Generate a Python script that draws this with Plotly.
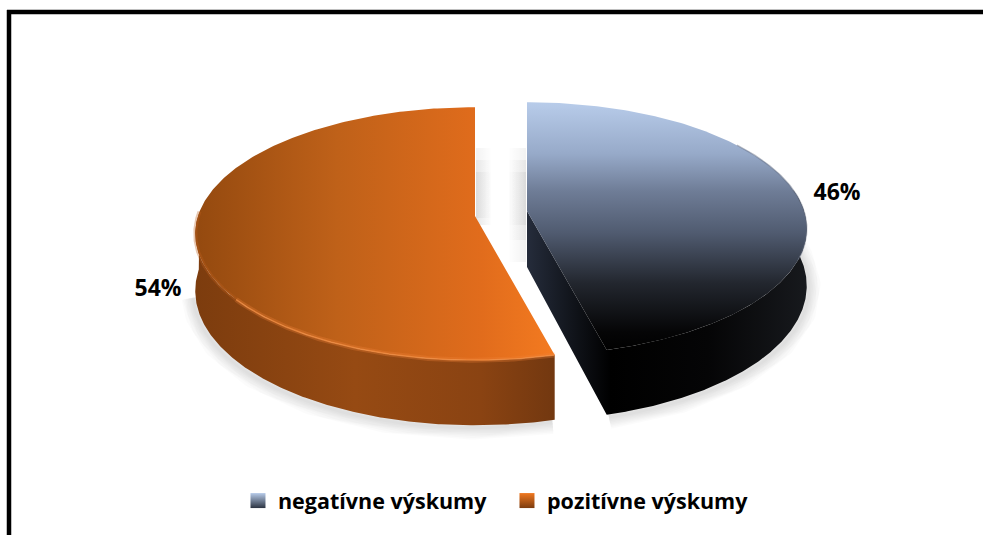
import numpy as np
import plotly.graph_objects as go

categories = ["negatívne výskumy", "pozitívne výskumy"]
values = [46, 54]

# drawing geometry of the tilted, exploded pie (axes mapped to window pixels)
CENTERS = [(527, 211), (475, 216)]
RX, RY, PERSP, DEPTH = 277, 124, 0.14, 56
FONT = "Open Sans"
WIDTH, HEIGHT = 983, 535


def project(theta_deg, cx, cy, radius=1.0, z=0.0):
    t = np.radians(theta_deg)
    u, v = radius * np.sin(t), -radius * np.cos(t)
    w = 1 - PERSP * v
    return cx + RX * u / w, cy + (RY * v + z) / w


def arc(a0, a1, cx, cy, z=0.0):
    return project(np.linspace(a0, a1, 240), cx, cy, z=z)


angle_end = 360 * values[0] / sum(values)
c0, c1 = CENTERS
fig = go.Figure()


def poly(x, y, orient, start, stop, scale):
    fig.add_trace(go.Scatter(
        x=list(x), y=list(y), mode="lines", line=dict(width=0), fill="toself",
        fillgradient=dict(type=orient, start=start, stop=stop, colorscale=scale),
        hoverinfo="skip", showlegend=False))


def stroke(x, y, color, width):
    fig.add_trace(go.Scatter(x=list(x), y=list(y), mode="lines",
                             line=dict(color=color, width=width),
                             hoverinfo="skip", showlegend=False))


# soft drop shadows
for width in [24, 21, 18, 15, 12, 9, 6, 3]:
    col = "rgba(0,0,0,0.014)"
    x, y = arc(angle_end, 260, c1[0], c1[1], z=DEPTH + 2)
    stroke(x - 2, y, col, width)
    x, y = arc(angle_end, 80, c0[0], c0[1], z=DEPTH + 2)
    stroke(x + 2, y, col, width)
fade_l = [[0, "rgba(0,0,0,0.05)"], [1, "rgba(0,0,0,0)"]]
fade_r = [[0, "rgba(0,0,0,0)"], [1, "rgba(0,0,0,0.05)"]]
for y_top, y_end in [(148, 225), (160, 225), (172, 218)]:
    poly([476, 492, 492, 476], [y_top, y_top, y_end, y_end], "horizontal", 476, 492, fade_l)
for y_top, y_end in [(148, 262), (160, 240), (172, 225)]:
    poly([508, 526, 526, 508], [y_top, y_top, y_end, y_end], "horizontal", 508, 526, fade_r)

# orange slice: wall then top
x0, y0 = arc(angle_end, 272, *c1)
x1, y1 = arc(272, angle_end, *c1, z=DEPTH)
poly(np.r_[x0, x1], np.r_[y0, y1], "horizontal", 193, 553,
     [[0, "#7c3c0e"], [0.45, "#964a13"], [0.8, "#8a4312"], [1, "#733810"]])
xt, yt = arc(angle_end, 360, *c1)
poly(np.r_[c1[0], xt], np.r_[c1[1], yt], "horizontal", 193, 553,
     [[0, "#93490f"], [0.4, "#bf6119"], [0.8, "#e16c1c"], [1, "#f37a20"]])
x, y = arc(angle_end, 232, *c1)
stroke(x, y, "rgba(240,130,55,0.3)", 5)
stroke(x, y, "rgba(240,140,65,0.75)", 1.5)
x, y = arc(232, 272, *c1)
stroke(x, y, "rgba(190,95,30,0.35)", 4)

# blue slice: wall and cut face, then top
x0, y0 = arc(angle_end, 80, *c0)
x1, y1 = arc(80, angle_end, *c0, z=DEPTH)
poly(np.r_[c0[0], x0, x1, c0[0]], np.r_[c0[1], y0, y1, c0[1] + DEPTH], "horizontal", 527, 806,
     [[0, "#252c3b"], [0.3, "#000000"], [0.65, "#050506"], [1, "#17191d"]])
xt, yt = arc(0, angle_end, *c0)
poly(np.r_[c0[0], xt], np.r_[c0[1], yt], "vertical", 104, 352,
     [[0, "#b7cbe9"], [0.2, "#97aac9"], [0.35, "#6f7d97"], [0.52, "#505b70"],
      [0.72, "#23272f"], [0.92, "#050506"], [1, "#000000"]])
x, y = arc(55, 112, *c0)
stroke(x, y, "rgba(95,105,125,0.45)", 1.5)

# data labels
label_x = [837, 158]
label_y = [194, 290]
fig.add_trace(go.Scatter(
    x=label_x, y=label_y, mode="text", text=[f"{v}%" for v in values],
    textfont=dict(family=FONT, size=23, color="#000000", weight="bold"),
    hoverinfo="skip", showlegend=False))

# legend entries
swatches = [("#b7cbe9", "#2c3442"), ("#f07820", "#7c3c0e")]
for name, (top, bottom) in zip(categories, swatches):
    fig.add_trace(go.Scatter(
        x=[None], y=[None], mode="markers", name=name,
        marker=dict(symbol="square", size=15, color=top,
                    gradient=dict(type="vertical", color=bottom))))

fig.update_layout(
    width=WIDTH, height=HEIGHT, autosize=False,
    margin=dict(l=0, r=0, t=0, b=0),
    paper_bgcolor="#ffffff", plot_bgcolor="#ffffff",
    xaxis=dict(range=[0, WIDTH], visible=False, fixedrange=True),
    yaxis=dict(range=[HEIGHT, 0], visible=False, fixedrange=True),
    legend=dict(orientation="h", x=0.2421, xanchor="left", y=0.026, yanchor="bottom",
                font=dict(family=FONT, size=21.5, color="#000000", weight="bold"),
                itemsizing="trace", entrywidth=224, bgcolor="rgba(0,0,0,0)"),
    shapes=[
        dict(type="line", xref="x", yref="y", x0=7, x1=983, y0=12, y1=12,
             line=dict(color="#000000", width=4.5)),
        dict(type="line", xref="x", yref="y", x0=9, x1=9, y0=10, y1=535,
             line=dict(color="#000000", width=4.5)),
    ],
)
fig.write_html(
    "out.html",
    config={"displayModeBar": False},
    post_script="document.body.style.margin='0';"
                "document.documentElement.style.overflow='hidden';",
)
